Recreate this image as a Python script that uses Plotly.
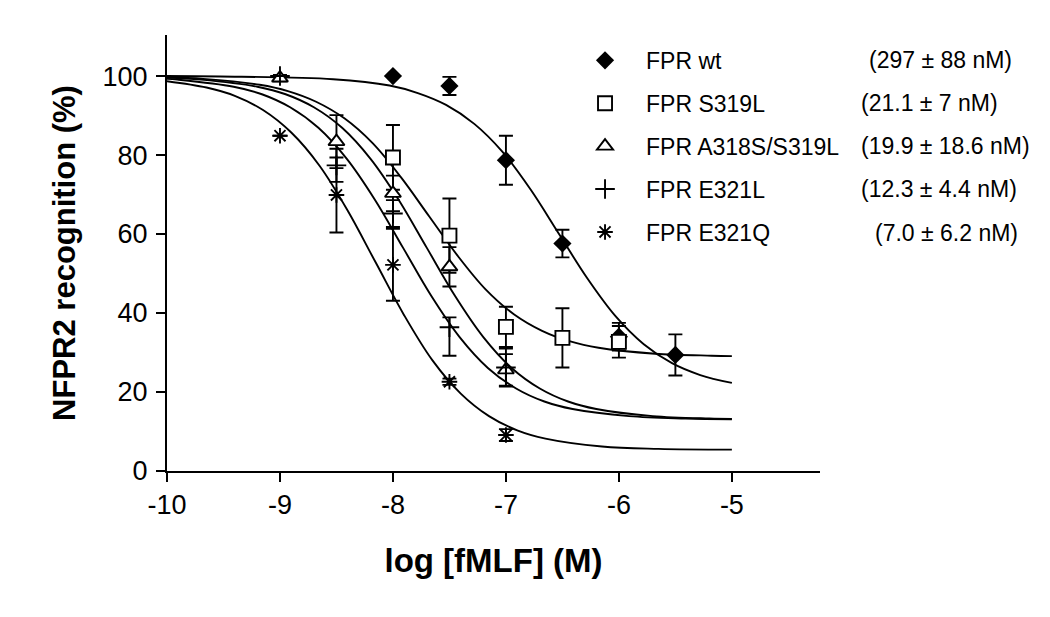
import plotly.graph_objects as go

wt_x = [-8, -7.5, -7, -6.5, -6, -5.5]
wt_y = [100, 97.5, 78.7, 57.6, 34.0, 29.4]
wt_err = [0, 2.3, 6.2, 3.5, 3.5, 5.2]

s319l_x = [-8, -7.5, -7, -6.5, -6]
s319l_y = [79.4, 59.6, 36.5, 33.7, 32.7]
s319l_err = [8.2, 9.4, 5.1, 7.5, 4.0]

a318s_x = [-9, -8.5, -8, -7.5, -7]
a318s_y = [99.5, 83.4, 70.3, 51.7, 25.6]
a318s_err = [0.8, 6.7, 4.5, 5.0, 4.0]

e321l_x = [-9, -8.5, -8, -7.5, -7]
e321l_y = [100, 77.4, 65.2, 36.4, 26.2]
e321l_err_plus = [0, 4.2, 3.4, 2.5, 4.8]
e321l_err_minus = [0, 4.2, 3.4, 7.2, 4.8]

e321q_x = [-9, -8.5, -8, -7.5, -7]
e321q_y = [84.9, 69.9, 52.2, 22.6, 9.1]
e321q_err = [0, 9.5, 9.1, 0.8, 1.5]

# fitted curves
wt_fit_x = [-10, -9.53, -8.53, -8.03, -7.78, -7.53, -7.28, -7.03, -6.78, -6.53,
            -6.28, -6.03, -5.78, -5.53, -5.28, -5.0]
wt_fit_y = [100, 99.9, 99.2, 97.6, 95.7, 92.7, 87.9, 80.8, 71.2, 60.0,
            48.8, 39.2, 32.1, 27.3, 24.3, 22.3]

s319l_fit_x = [-10, -9.68, -9.18, -8.93, -8.68, -8.43, -8.18, -7.93, -7.68, -7.43,
               -7.18, -6.93, -6.68, -6.43, -6.18, -5.68, -5.18, -5.0]
s319l_fit_y = [99.7, 99.3, 97.8, 96.2, 93.5, 89.3, 83.0, 74.4, 64.5, 54.6,
               46.0, 39.7, 35.5, 32.8, 31.2, 29.7, 29.2, 29.1]

a318s_fit_x = [-10, -9.7, -9.2, -8.95, -8.7, -8.45, -8.2, -7.95, -7.7, -7.45,
               -7.2, -6.95, -6.7, -6.45, -6.2, -5.7, -5.2, -5.0]
a318s_fit_y = [99.6, 99.1, 97.3, 95.4, 92.1, 86.9, 79.1, 68.7, 56.5, 44.3,
               33.9, 26.1, 20.9, 17.6, 15.7, 13.9, 13.3, 13.2]

e321l_fit_x = [-10, -9.91, -9.41, -9.16, -8.91, -8.66, -8.41, -8.16, -7.91, -7.66,
               -7.41, -7.16, -6.91, -6.66, -6.41, -5.91, -5.41, -5.0]
e321l_fit_y = [99.3, 99.1, 97.3, 95.4, 92.1, 86.9, 79.1, 68.7, 56.5, 44.3,
               33.9, 26.1, 20.9, 17.6, 15.7, 13.9, 13.3, 13.1]

e321q_fit_x = [-10, -9.65, -9.4, -9.15, -8.9, -8.65, -8.4, -8.15, -7.9, -7.65,
               -7.4, -7.15, -6.9, -6.65, -6.15, -5.65, -5.0]
e321q_fit_y = [98.7, 97.1, 95.0, 91.4, 85.7, 77.3, 65.9, 52.65, 39.4, 28.0,
               19.6, 13.9, 10.3, 8.2, 6.2, 5.6, 5.4]

names = ["FPR wt", "FPR S319L", "FPR A318S/S319L", "FPR E321L", "FPR E321Q"]
ic50_labels = ["(297 \u00b1 88 nM)", "(21.1 \u00b1 7 nM)", "(19.9 \u00b1 18.6 nM)",
               "(12.3 \u00b1 4.4 nM)", "(7.0 \u00b1 6.2 nM)"]

x_ticks = [-10, -9, -8, -7, -6, -5]
y_ticks = [0, 20, 40, 60, 80, 100]

FONT = "Liberation Sans, Arial, sans-serif"
LW = 1.9

fig = go.Figure()

# curves first so markers sit on top
for fx, fy in [(wt_fit_x, wt_fit_y), (s319l_fit_x, s319l_fit_y), (a318s_fit_x, a318s_fit_y),
               (e321l_fit_x, e321l_fit_y), (e321q_fit_x, e321q_fit_y)]:
    fig.add_trace(go.Scatter(
        x=fx, y=fy, mode="lines",
        line=dict(color="black", width=LW, shape="spline", smoothing=1.0),
        showlegend=False, hoverinfo="skip"
    ))

err_style = dict(type="data", color="black", thickness=LW, width=7, visible=True)

fig.add_trace(go.Scatter(
    x=wt_x, y=wt_y, mode="markers", name=names[0], legendgroup="a",
    marker=dict(symbol="diamond", size=14, color="black"),
    error_y=dict(array=wt_err, **err_style)
))
fig.add_trace(go.Scatter(
    x=s319l_x, y=s319l_y, mode="markers", name=names[1], legendgroup="b",
    marker=dict(symbol="square", size=14, color="white", line=dict(color="black", width=LW)),
    error_y=dict(array=s319l_err, **err_style)
))
fig.add_trace(go.Scatter(
    x=a318s_x, y=a318s_y, mode="markers", name=names[2], legendgroup="c",
    marker=dict(symbol="triangle-up", size=14, color="white", line=dict(color="black", width=LW)),
    error_y=dict(array=a318s_err, **err_style)
))
fig.add_trace(go.Scatter(
    x=e321l_x, y=e321l_y, mode="markers", name=names[3], legendgroup="d",
    marker=dict(symbol="cross-thin-open", size=14, color="black", line=dict(color="black", width=LW)),
    error_y=dict(array=e321l_err_plus, arrayminus=e321l_err_minus, symmetric=False, **err_style)
))
fig.add_trace(go.Scatter(
    x=e321q_x, y=e321q_y, mode="markers", name=names[4], legendgroup="e",
    marker=dict(symbol="asterisk-open", size=13, color="black", line=dict(color="black", width=LW)),
    error_y=dict(array=e321q_err, **err_style)
))

# IC50 column next to the legend
label_x = [1.072, 1.060, 1.060, 1.060, 1.081]
label_y = [0.943, 0.844, 0.745, 0.647, 0.546]
for txt, lx, ly in zip(ic50_labels, label_x, label_y):
    fig.add_annotation(
        text=txt, xref="paper", yref="paper", x=lx, y=ly,
        xanchor="left", yanchor="middle", showarrow=False,
        font=dict(family=FONT, size=23, color="black")
    )

# page body adds an 8px offset, so margins are trimmed by 8 on the left/top
fig.update_layout(
    width=1050, height=617,
    margin=dict(l=159, r=238, t=27, b=154),
    plot_bgcolor="white", paper_bgcolor="white",
    font=dict(family=FONT, color="black"),
    showlegend=True,
    legend=dict(
        x=0.608, y=0.991, xanchor="left", yanchor="top",
        font=dict(family=FONT, size=23, color="black"),
        traceorder="grouped", tracegroupgap=10,
        bgcolor="rgba(0,0,0,0)", itemwidth=72
    )
)

fig.update_xaxes(
    range=[-10, -4.22], tickvals=x_ticks, ticktext=[str(v) for v in x_ticks],
    showline=True, linecolor="black", linewidth=LW,
    ticks="outside", ticklen=9, tickwidth=LW, tickcolor="black",
    showgrid=False, zeroline=False, automargin=False,
    tickfont=dict(family=FONT, size=27, color="black"),
    title=dict(text="<b>log [fMLF] (M)</b>", font=dict(family=FONT, size=33, color="black"), standoff=30)
)
fig.update_yaxes(
    range=[0, 110.4], tickvals=y_ticks,
    showline=True, linecolor="black", linewidth=LW,
    ticks="outside", ticklen=9, tickwidth=LW, tickcolor="black",
    showgrid=False, zeroline=False, automargin=False, ticklabelstandoff=3,
    tickfont=dict(family=FONT, size=27, color="black"),
    title=dict(text="<b>NFPR2 recognition (%)</b>", font=dict(family=FONT, size=31, color="black"), standoff=18)
)

fig.write_html("out.html")
